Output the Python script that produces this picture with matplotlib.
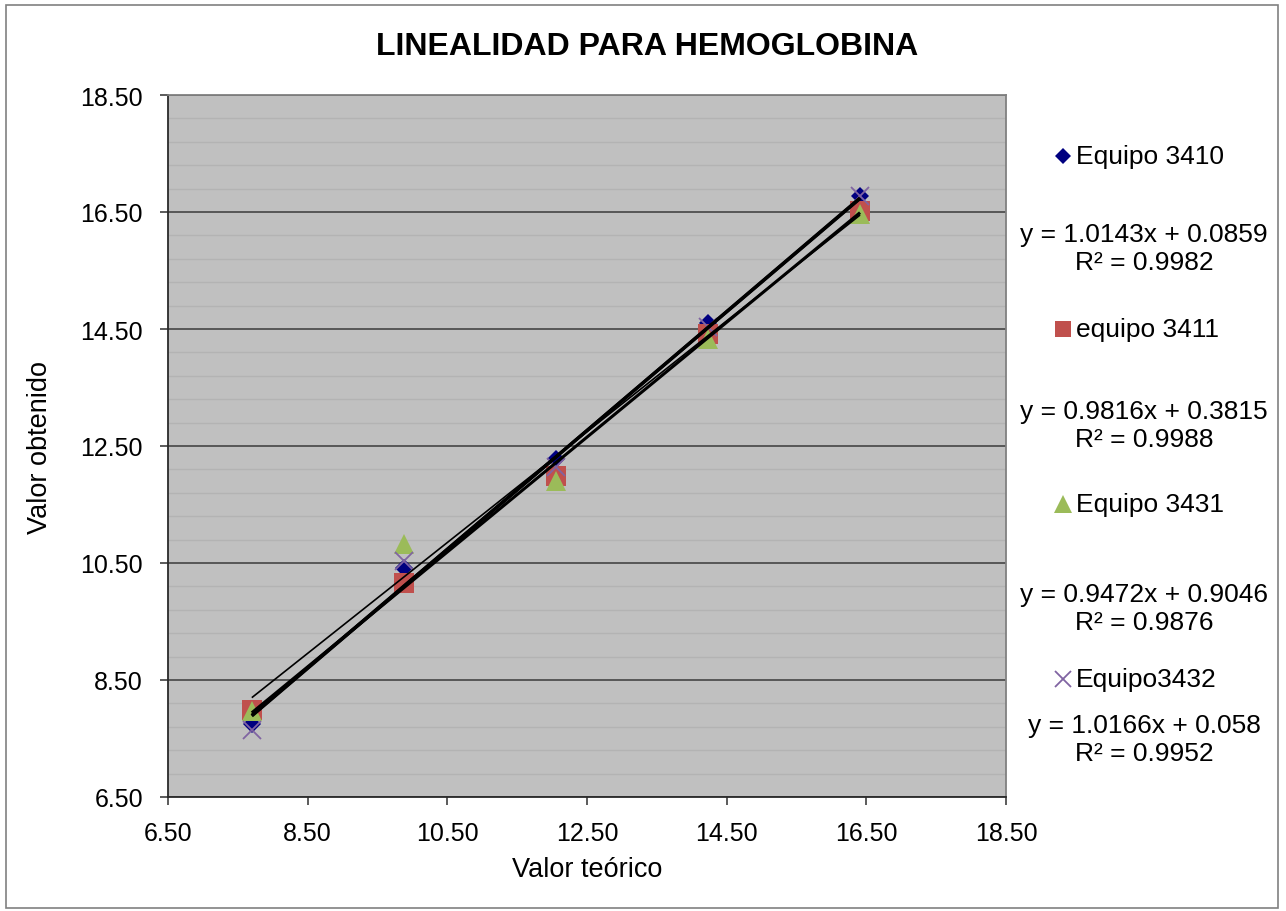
import numpy as np
import matplotlib
matplotlib.use("Agg")
import matplotlib.pyplot as plt
from matplotlib.patches import Rectangle
from matplotlib.ticker import MultipleLocator, FormatStrFormatter

plt.rcParams['font.family'] = ['Liberation Sans', 'DejaVu Sans']

# datos
x_teorico = [7.70, 9.88, 12.06, 14.23, 16.41]
y_3410 = [7.75, 10.41, 12.28, 14.61, 16.77]
y_3411 = [7.99, 10.16, 11.99, 14.41, 16.52]
y_3431 = [7.97, 10.82, 11.91, 14.33, 16.47]
y_3432 = [7.65, 10.54, 12.14, 14.53, 16.78]

nombres = ['Equipo 3410', 'equipo 3411', 'Equipo 3431', 'Equipo3432']
pendientes = [1.0143, 0.9816, 0.9472, 1.0166]
intercepts = [0.0859, 0.3815, 0.9046, 0.058]
r2 = [0.9982, 0.9988, 0.9876, 0.9952]
ecuaciones = ['y = 1.0143x + 0.0859', 'y = 0.9816x + 0.3815',
              'y = 0.9472x + 0.9046', 'y = 1.0166x + 0.058']

series = [y_3410, y_3411, y_3431, y_3432]
estilos = [dict(marker='D', color='#000080', ms=9, mew=0),
           dict(marker='s', color='#C0504D', ms=14, mew=0),
           dict(marker='^', color='#9BBB59', ms=15, mew=0),
           dict(marker='x', color='#8064A2', ms=13, mew=1.3)]
grosor = [2.4, 2.2, 1.2, 2.4]

fig = plt.figure(figsize=(12.86, 9.12), dpi=100)
fig.patches.append(Rectangle((6/1286, 3/912), 1272/1286, 903/912, transform=fig.transFigure,
                             fill=False, edgecolor='#808080', lw=1.2))
ax = fig.add_axes([168/1286, 1-798/912, 838/1286, 702/912])
ax.set_facecolor('#C0C0C0')

for ys, st in zip(series, estilos):
    ax.plot(x_teorico, ys, ls='none', zorder=3, **st)

# lineas de tendencia
xs = np.array([min(x_teorico), max(x_teorico)])
for m, b, lw in zip(pendientes, intercepts, grosor):
    ax.plot(xs, m*xs + b, color='black', lw=lw, zorder=4, solid_capstyle='butt')

ax.set_xlim(6.5, 18.5)
ax.set_ylim(6.5, 18.5)
ax.xaxis.set_major_locator(MultipleLocator(2, offset=0.5))
ax.yaxis.set_major_locator(MultipleLocator(2, offset=0.5))
ax.yaxis.set_minor_locator(MultipleLocator(0.4, offset=0.1))
ax.xaxis.set_major_formatter(FormatStrFormatter('%.2f'))
ax.yaxis.set_major_formatter(FormatStrFormatter('%.2f'))
ax.grid(axis='y', which='minor', color='#B3B3B3', lw=1.0, zorder=0)
ax.grid(axis='y', which='major', color='#3A3A3A', lw=1.1, zorder=1)
ax.set_axisbelow(True)
ax.tick_params(axis='both', which='major', direction='out', length=6, width=1.2,
               color='#404040', labelsize=18)
ax.tick_params(axis='y', which='major', pad=12)
ax.tick_params(axis='x', which='major', pad=11)
ax.tick_params(axis='y', which='minor', length=0)
for s in ['left', 'bottom']:
    ax.spines[s].set_color('#2a2a2a')
    ax.spines[s].set_linewidth(1.3)
for s in ['top', 'right']:
    ax.spines[s].set_color('#808080')
    ax.spines[s].set_linewidth(1.3)

ax.set_xlabel('Valor teórico', fontsize=19.5, labelpad=8)
ax.set_ylabel('Valor obtenido', fontsize=19.5, labelpad=20)
fig.text(0.5035, 1-47/912, 'LINEALIDAD PARA HEMOGLOBINA', fontsize=23, fontweight='bold',
         ha='center', va='center')

# leyenda
y_nombre = [157, 330, 505, 680]
y_ecuacion = [249, 426, 609, 740]
for i in range(4):
    yn = 1 - y_nombre[i]/912
    st = dict(estilos[i])
    st['ms'] = st['ms'] * 0.85
    ax.plot([1063/1286], [yn], transform=fig.transFigure, clip_on=False, ls='none', **st)
    fig.text(1076/1286, yn, nombres[i], fontsize=19, ha='left', va='center')
    fig.text(1144/1286, 1 - y_ecuacion[i]/912, '%s\nR² = %.4f' % (ecuaciones[i], r2[i]),
             fontsize=19, ha='center', va='center', multialignment='center', linespacing=1.25)

fig.savefig('out.png', dpi=100)
